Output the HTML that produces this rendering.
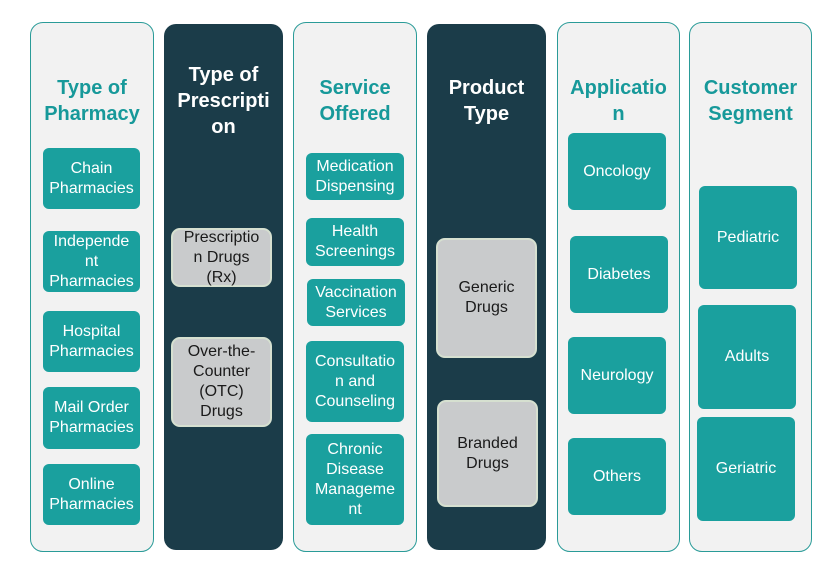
<!DOCTYPE html>
<html>
<head>
<meta charset="utf-8">
<style>
html,body{margin:0;padding:0;background:#ffffff;}
body{width:830px;height:562px;position:relative;overflow:hidden;font-family:"Liberation Sans",Arial,sans-serif;}
.col{position:absolute;box-sizing:border-box;}
.light{background:#f2f2f2;border:1.5px solid #2a9b98;border-radius:13px;}
.dark{background:#1b3c49;border-radius:12px;}
.title{position:absolute;left:0;width:100%;text-align:center;font-weight:bold;font-size:20px;line-height:26px;white-space:nowrap;}
.light .title{color:#17999a;}
.dark .title{color:#ffffff;}
.box{position:absolute;box-sizing:border-box;display:flex;align-items:center;justify-content:center;text-align:center;font-size:16px;line-height:20px;white-space:nowrap;}
.teal{background:#1aa09e;color:#ffffff;border-radius:6px;}
.gray{background:#c9cbcc;color:#1a1a1a;border:2.5px solid #d6e0d0;border-radius:9px;}
</style>
</head>
<body>

<!-- Column 1: Type of Pharmacy -->
<div class="col light" style="left:30px;top:22px;width:124px;height:530px;"></div>
<div class="title" style="left:30px;width:124px;top:75px;color:#17999a;">Type of<br>Pharmacy</div>
<div class="box teal" style="left:43px;top:148px;width:97px;height:61px;">Chain<br>Pharmacies</div>
<div class="box teal" style="left:43px;top:231px;width:97px;height:61px;">Independe<br>nt<br>Pharmacies</div>
<div class="box teal" style="left:43px;top:311px;width:97px;height:61px;">Hospital<br>Pharmacies</div>
<div class="box teal" style="left:43px;top:387px;width:97px;height:62px;">Mail Order<br>Pharmacies</div>
<div class="box teal" style="left:43px;top:464px;width:97px;height:61px;">Online<br>Pharmacies</div>

<!-- Column 2: Type of Prescription -->
<div class="col dark" style="left:164px;top:24px;width:119px;height:526px;"></div>
<div class="title" style="left:164px;width:119px;top:62px;color:#ffffff;">Type of<br>Prescripti<br>on</div>
<div class="box gray" style="left:171px;top:228px;width:101px;height:59px;">Prescriptio<br>n Drugs<br>(Rx)</div>
<div class="box gray" style="left:171px;top:337px;width:101px;height:90px;">Over-the-<br>Counter<br>(OTC)<br>Drugs</div>

<!-- Column 3: Service Offered -->
<div class="col light" style="left:293px;top:22px;width:124px;height:530px;"></div>
<div class="title" style="left:293px;width:124px;top:75px;color:#17999a;">Service<br>Offered</div>
<div class="box teal" style="left:306px;top:153px;width:98px;height:47px;">Medication<br>Dispensing</div>
<div class="box teal" style="left:306px;top:218px;width:98px;height:48px;">Health<br>Screenings</div>
<div class="box teal" style="left:307px;top:279px;width:98px;height:47px;">Vaccination<br>Services</div>
<div class="box teal" style="left:306px;top:341px;width:98px;height:81px;">Consultatio<br>n and<br>Counseling</div>
<div class="box teal" style="left:306px;top:434px;width:98px;height:91px;">Chronic<br>Disease<br>Manageme<br>nt</div>

<!-- Column 4: Product Type -->
<div class="col dark" style="left:427px;top:24px;width:119px;height:526px;"></div>
<div class="title" style="left:427px;width:119px;top:75px;color:#ffffff;">Product<br>Type</div>
<div class="box gray" style="left:436px;top:238px;width:101px;height:120px;">Generic<br>Drugs</div>
<div class="box gray" style="left:437px;top:400px;width:101px;height:107px;">Branded<br>Drugs</div>

<!-- Column 5: Application -->
<div class="col light" style="left:557px;top:22px;width:123px;height:530px;"></div>
<div class="title" style="left:557px;width:123px;top:75px;color:#17999a;">Applicatio<br>n</div>
<div class="box teal" style="left:568px;top:133px;width:98px;height:77px;">Oncology</div>
<div class="box teal" style="left:570px;top:236px;width:98px;height:77px;">Diabetes</div>
<div class="box teal" style="left:568px;top:337px;width:98px;height:77px;">Neurology</div>
<div class="box teal" style="left:568px;top:438px;width:98px;height:77px;">Others</div>

<!-- Column 6: Customer Segment -->
<div class="col light" style="left:689px;top:22px;width:123px;height:530px;"></div>
<div class="title" style="left:689px;width:123px;top:75px;color:#17999a;">Customer<br>Segment</div>
<div class="box teal" style="left:699px;top:186px;width:98px;height:103px;">Pediatric</div>
<div class="box teal" style="left:698px;top:305px;width:98px;height:104px;">Adults</div>
<div class="box teal" style="left:697px;top:417px;width:98px;height:104px;">Geriatric</div>

</body>
</html>
